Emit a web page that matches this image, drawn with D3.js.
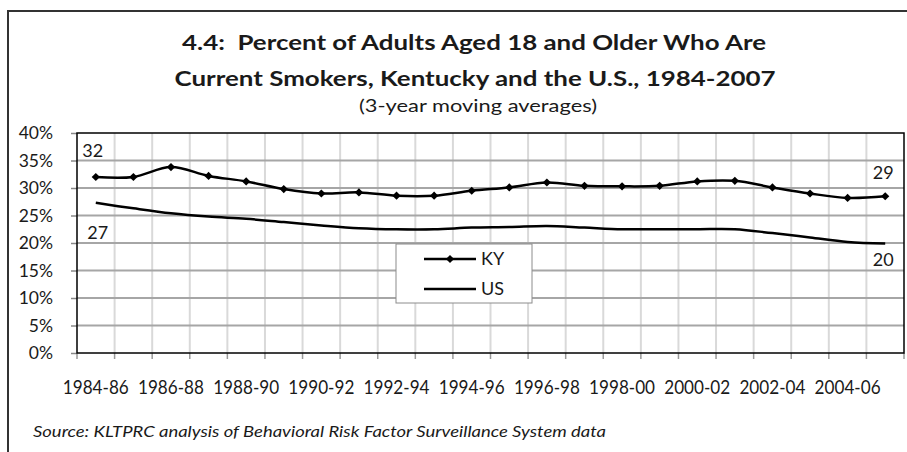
<!DOCTYPE html>
<html>
<head>
<meta charset="utf-8">
<script src="https://cdn.jsdelivr.net/npm/d3@7/dist/d3.min.js"></script>
<style>
  html, body { margin: 0; padding: 0; background: #fff; }
  svg { display: block; font-family: Lato, "Open Sans", sans-serif; }
</style>
</head>
<body>
<svg id="chart" width="907" height="452"></svg>
<script>
// 3-year moving averages, percent of adults who currently smoke
const categories = [
  "1984-86", "1985-87", "1986-88", "1987-89", "1988-90", "1989-91",
  "1990-92", "1991-93", "1992-94", "1993-95", "1994-96", "1995-97",
  "1996-98", "1997-99", "1998-00", "1999-01", "2000-02", "2001-03",
  "2002-04", "2003-05", "2004-06", "2005-07"
];
const kyValues = [
  32.0, 32.0, 33.8, 32.2, 31.2, 29.8, 29.0, 29.2, 28.6, 28.6, 29.5,
  30.1, 31.0, 30.4, 30.3, 30.4, 31.2, 31.3, 30.1, 29.0, 28.2, 28.5
];
const usValues = [
  27.3, 26.3, 25.4, 24.8, 24.4, 23.8, 23.2, 22.7, 22.5, 22.5, 22.8,
  22.9, 23.1, 22.8, 22.5, 22.5, 22.5, 22.5, 21.8, 21.0, 20.2, 19.9
];
const yTicks = [0, 5, 10, 15, 20, 25, 30, 35, 40];

const svg = d3.select("#chart");
const textColor = "#1a1a1a";

// squeeze a text element into a fixed pixel width
function fitWidth(sel, target) {
  sel.attr("textLength", target).attr("lengthAdjust", "spacingAndGlyphs");
}

// outer frame (open to the right and bottom)
svg.append("path")
  .attr("d", "M908,11 H8 V453")
  .attr("fill", "none")
  .attr("stroke", "#333")
  .attr("stroke-width", 2);

// titles
const t1 = svg.append("text").attr("x", 474).attr("y", 50)
  .attr("text-anchor", "middle").attr("font-weight", "bold")
  .attr("font-size", 21).attr("fill", textColor)
  .attr("xml:space", "preserve")
  .text("4.4:  Percent of Adults Aged 18 and Older Who Are");
fitWidth(t1, 584);
const t2 = svg.append("text").attr("x", 475).attr("y", 86)
  .attr("text-anchor", "middle").attr("font-weight", "bold")
  .attr("font-size", 21).attr("fill", textColor)
  .text("Current Smokers, Kentucky and the U.S., 1984-2007");
fitWidth(t2, 601);
const t3 = svg.append("text").attr("x", 478).attr("y", 112)
  .attr("text-anchor", "middle")
  .attr("font-size", 18).attr("fill", textColor)
  .text("(3-year moving averages)");
fitWidth(t3, 238);

// plot area
const plotLeft = 77, plotRight = 904, plotTop = 133, plotBottom = 353;
const x = d3.scaleBand().domain(categories).range([plotLeft, plotRight]);
const cx = d => x(d) + x.bandwidth() / 2;
const y = d3.scaleLinear().domain([0, 40]).range([plotBottom, plotTop]);

// vertical gridlines at category boundaries
svg.append("g").selectAll("line")
  .data(categories.slice(1))
  .join("line")
  .attr("x1", d => x(d)).attr("x2", d => x(d))
  .attr("y1", plotTop).attr("y2", plotBottom)
  .attr("stroke", "#d9d9d9").attr("stroke-width", 2);

// horizontal gridlines
svg.append("g").selectAll("line")
  .data(yTicks.filter(v => v > 0 && v < 40))
  .join("line")
  .attr("x1", plotLeft).attr("x2", plotRight)
  .attr("y1", d => y(d)).attr("y2", d => y(d))
  .attr("stroke", "#a6a6a6").attr("stroke-width", 2);

// y axis
const yAxis = svg.append("g")
  .attr("transform", `translate(${plotLeft},0)`)
  .call(d3.axisLeft(y).tickValues(yTicks).tickFormat(d => d + "%")
    .tickSize(6).tickPadding(18));
yAxis.select(".domain").remove();
yAxis.selectAll(".tick line").attr("stroke", "#888").attr("stroke-width", 1.5);
yAxis.selectAll(".tick text")
  .attr("font-family", "Lato, sans-serif").attr("font-size", 17.5)
  .attr("fill", textColor);

// x axis: labels on every other category, tick marks at boundaries
const xAxis = svg.append("g")
  .attr("transform", `translate(0,${plotBottom})`)
  .call(d3.axisBottom(x).tickSize(0).tickPadding(28)
    .tickFormat((d, i) => i % 2 === 0 ? d : ""));
xAxis.select(".domain").remove();
xAxis.selectAll(".tick text")
  .attr("font-family", "Lato, sans-serif").attr("font-size", 18.5)
  .attr("fill", textColor)
  .each(function () { if (this.textContent) fitWidth(d3.select(this), 66); });
svg.append("g").selectAll("line")
  .data(categories.map(d => x(d)).concat([plotRight]))
  .join("line")
  .attr("x1", d => d).attr("x2", d => d)
  .attr("y1", plotBottom).attr("y2", plotBottom + 6)
  .attr("stroke", "#999").attr("stroke-width", 1.5);

// plot border
svg.append("rect")
  .attr("x", plotLeft).attr("y", plotTop)
  .attr("width", plotRight - plotLeft).attr("height", plotBottom - plotTop)
  .attr("fill", "none").attr("stroke", "#000").attr("stroke-width", 1.5);

// series lines
const line = d3.line()
  .x((d, i) => cx(categories[i]))
  .y(d => y(d))
  .curve(d3.curveCatmullRom.alpha(0));

svg.append("path").datum(usValues)
  .attr("d", line).attr("fill", "none")
  .attr("stroke", "#000").attr("stroke-width", 2.5);
svg.append("path").datum(kyValues)
  .attr("d", line).attr("fill", "none")
  .attr("stroke", "#000").attr("stroke-width", 2.5);

const diamond = d3.symbol().type(d3.symbolSquare).size(34);
svg.append("g").selectAll("path")
  .data(kyValues)
  .join("path")
  .attr("d", diamond)
  .attr("transform", (d, i) => `translate(${cx(categories[i])},${y(d)}) rotate(45)`)
  .attr("fill", "#000");

// data labels on the first and last points
const labels = [
  { values: kyValues, i: 0, dx: -3, dy: -26 },
  { values: usValues, i: 0, dx: 2, dy: 30 },
  { values: kyValues, i: kyValues.length - 1, dx: -2, dy: -24 },
  { values: usValues, i: usValues.length - 1, dx: -2, dy: 16 }
];
svg.append("g").selectAll("text")
  .data(labels)
  .join("text")
  .attr("x", d => cx(categories[d.i]) + d.dx)
  .attr("y", d => y(d.values[d.i]) + d.dy)
  .attr("dy", "0.35em")
  .attr("text-anchor", "middle")
  .attr("font-size", 18).attr("fill", textColor)
  .text(d => Math.round(d.values[d.i]));

// legend
const legend = svg.append("g");
legend.append("rect")
  .attr("x", 396).attr("y", 244).attr("width", 136).attr("height", 59)
  .attr("fill", "#fff").attr("stroke", "#8c8c8c").attr("stroke-width", 1);
const legendItems = [
  { name: "KY", marker: true, yy: 259 },
  { name: "US", marker: false, yy: 289 }
];
legendItems.forEach(it => {
  legend.append("line")
    .attr("x1", 424).attr("x2", 476).attr("y1", it.yy).attr("y2", it.yy)
    .attr("stroke", "#000").attr("stroke-width", 2.5);
  if (it.marker) {
    legend.append("path").attr("d", diamond)
      .attr("transform", `translate(450,${it.yy}) rotate(45)`)
      .attr("fill", "#000");
  }
  legend.append("text")
    .attr("x", 481).attr("y", it.yy).attr("dy", "0.35em")
    .attr("font-size", 18).attr("fill", textColor)
    .text(it.name);
});

// source note
const src = svg.append("text").attr("x", 33).attr("y", 437)
  .attr("font-style", "italic").attr("font-size", 16).attr("fill", textColor)
  .text("Source: KLTPRC analysis of Behavioral Risk Factor Surveillance System data");
fitWidth(src, 573);
</script>
</body>
</html>
